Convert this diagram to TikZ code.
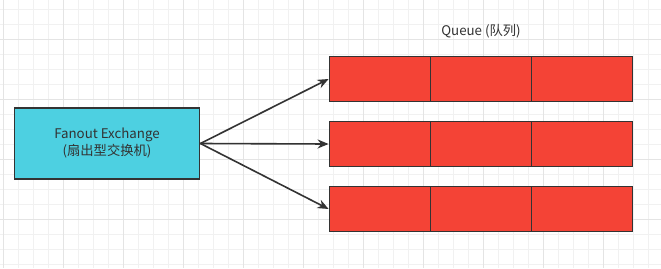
\documentclass[tikz,border=0pt]{standalone}
\usepackage{fontspec}
\newfontfamily\cjk{Noto Sans CJK SC}
\usepackage{tikz}
\usetikzlibrary{arrows.meta, positioning}
\usepackage{xcolor}
\definecolor{gridMinor}{RGB}{241, 241, 241}
\definecolor{gridMajor}{RGB}{228, 228, 228}
\definecolor{exchangeCyan}{RGB}{77, 208, 225}
\definecolor{queueRed}{RGB}{244, 67, 54}
\definecolor{inkGray}{RGB}{51, 51, 51}

\begin{document}
\begin{tikzpicture}[
    x=1pt, y=-1pt,
    exchange/.style={rectangle, draw=inkGray, fill=exchangeCyan, line width=1.8pt, minimum width=185pt, minimum height=71pt, align=center, text=inkGray, font=\cjk\fontsize{13.3}{17}\selectfont},
    cell/.style={rectangle, draw=inkGray, fill=queueRed, line width=1.8pt, minimum width=101pt, minimum height=45pt, inner sep=0pt},
    arrow/.style={-{Stealth[length=11pt, width=9pt]}, line width=1.6pt, inkGray}
]
\useasboundingbox (0,0) rectangle (661,268);
\fill[white] (0,0) rectangle (661,268);

% background grid
\foreach \gx in {3,18,...,663} \draw[gridMinor, line width=0.8pt] (\gx,0) -- (\gx,268);
\foreach \gy in {9,24,...,264} \draw[gridMinor, line width=0.8pt] (0,\gy) -- (661,\gy);
\foreach \gx in {3,63,...,663} \draw[gridMajor, line width=0.8pt] (\gx,0) -- (\gx,268);
\foreach \gy in {39,99,...,264} \draw[gridMajor, line width=0.8pt] (0,\gy) -- (661,\gy);

% exchange and queues
\node[exchange] (fanout) at (107,143.5) {Fanout Exchange\\(扇出型交换机)};
\node[text=inkGray, font=\cjk\fontsize{13.3}{15}\selectfont] (title) at (481,31) {Queue (队列)};

\foreach \row/\qy in {1/79, 2/144, 3/209} {
    \foreach \col/\qx in {a/380, b/481, c/582}
        \node[cell] (q\row\col) at (\qx,\qy) {};
}

% fan out
\foreach \row in {1,2,3}
    \draw[arrow] (fanout.east) -- (q\row a.west);

\end{tikzpicture}
\end{document}
